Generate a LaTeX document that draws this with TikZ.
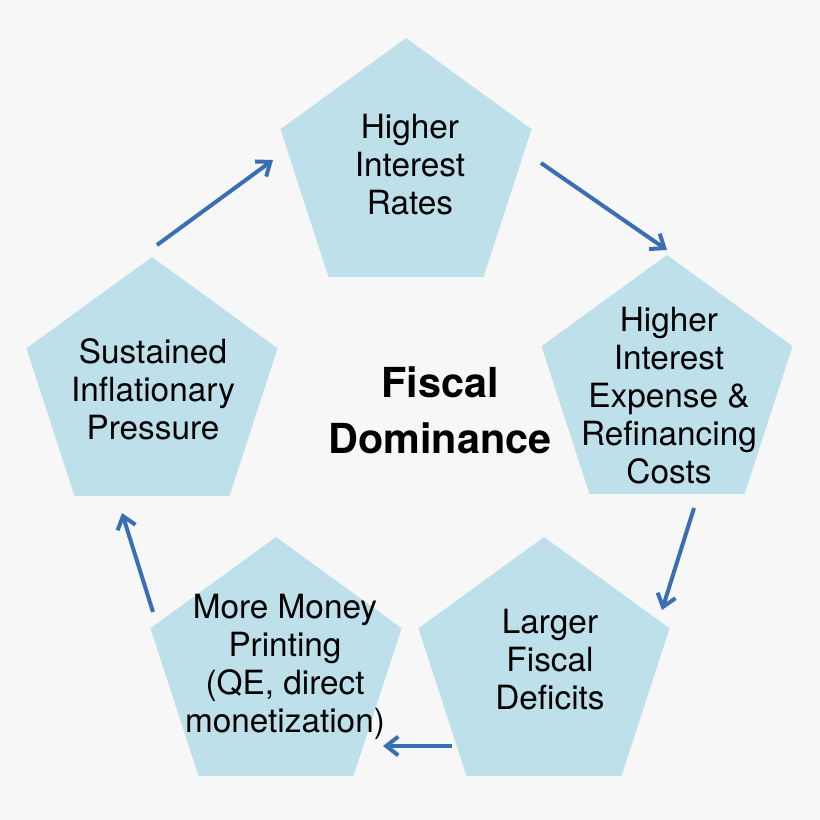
\documentclass[tikz,border=0pt]{standalone}
\usepackage{fontspec}
\setmainfont{TeX Gyre Heros}
\usetikzlibrary{shapes.geometric,arrows.meta}
\definecolor{penta}{HTML}{BEE0EA}
\definecolor{arrowblue}{HTML}{3A70B3}
\tikzset{
	step node/.style={regular polygon,regular polygon sides=5,fill=penta,
		minimum size=198pt,inner sep=0pt},
	step text/.style={align=center,font=\fontsize{25}{28.5}\selectfont},
	cycle arrow/.style={draw=arrowblue,line width=3pt,
		-{Straight Barb[length=9pt,width=14pt,line width=3pt]}}
}
\begin{document}
\begin{tikzpicture}[x=0.75pt,y=-0.75pt]
	\fill[white!97!black] (0,0) rectangle (820,820);
	\useasboundingbox (0,0) rectangle (820,820);
	% steps of the cycle
	\node [step node] (rates) at (406,170) {};
	\node [step node] (expense) at (667,387) {};
	\node [step node] (deficits) at (544,669) {};
	\node [step node] (printing) at (276,669) {};
	\node [step node] (pressure) at (152,389) {};
	\node [step text] (rates text) at (410,165) {Higher\\Interest\\Rates};
	\node [step text] (expense text) at (669,396) {Higher\\Interest\\Expense \&\\Refinancing\\Costs};
	\node [step text] (deficits text) at (550,660) {Larger\\Fiscal\\Deficits};
	\node [step text] (printing text) at (285,667) {More Money\\Printing\\ (QE, direct\\monetization)};
	\node [step text] (pressure text) at (153,389) {Sustained\\Inflationary\\Pressure};
	\node [font=\fontsize{31}{42}\selectfont\bfseries,align=center] (title) at (440,410) {Fiscal\\Dominance};
	% arrow ends
	\coordinate (a1) at (157,245); \coordinate (b1) at (273,160);
	\coordinate (a2) at (541,163); \coordinate (b2) at (667,250);
	\coordinate (a3) at (694,508); \coordinate (b3) at (662,610);
	\coordinate (a4) at (452,746); \coordinate (b4) at (383,746);
	\coordinate (a5) at (153,612); \coordinate (b5) at (122,513);
	\foreach \i in {1,...,5}
		\draw [cycle arrow] (a\i) -- (b\i);
\end{tikzpicture}
\end{document}
